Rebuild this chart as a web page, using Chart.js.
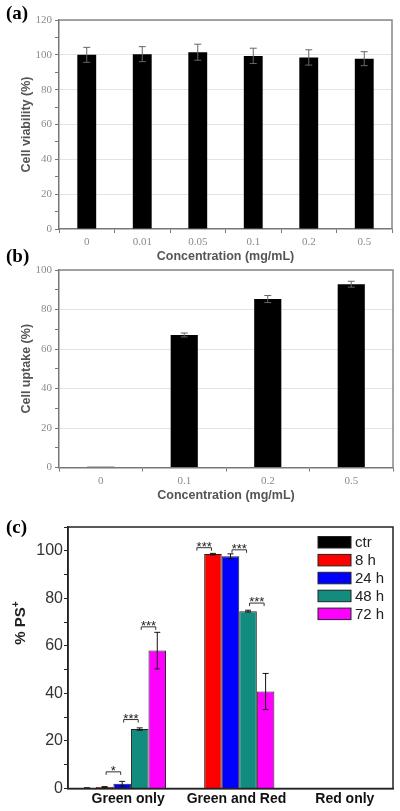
<!DOCTYPE html>
<html>
<head>
<meta charset="utf-8">
<script src="https://cdn.jsdelivr.net/npm/chart.js@4.4.4/dist/chart.umd.min.js"></script>
<style>
  body { margin: 0; background: #fff; width: 400px; height: 811px; position: relative; overflow: hidden; }
  canvas { position: absolute; left: 0; }
</style>
</head>
<body>
<canvas id="chartA" width="400" height="265" style="top:0"></canvas>
<canvas id="chartB" width="400" height="259" style="top:245px"></canvas>
<canvas id="chartC" width="400" height="305" style="top:506px"></canvas>
<script>
// (a) cell viability
const catsA = ['0', '0.01', '0.05', '0.1', '0.2', '0.5']
const viability = [100, 100.4, 101.5, 99.4, 98.5, 97.8]
const viabilityErr = [4.3, 4.3, 4.6, 4.4, 4.4, 4.0]

// (b) cell uptake
const catsB = ['0', '0.1', '0.2', '0.5']
const uptake = [0.4, 67.1, 85.3, 92.8]
const uptakeErr = [0, 1.0, 1.8, 1.5]

// (c) % PS+
const groupsC = ['Green only', 'Green and Red', 'Red only']
const seriesC = ['ctr', '8 h', '24 h', '48 h', '72 h']
const colorsC = ['#000000', '#ff0000', '#0000ff', '#138c80', '#ff00ff']
const psCtr = [0.2, 0.1, 0]
const ps8h = [0.6, 98.6, 0]
const ps24h = [2.0, 97.7, 0]
const ps48h = [25.0, 74.6, 0]
const ps72h = [58.0, 40.8, 0]
const errCtr = [0.1, 0, 0]
const err8h = [0.2, 0.3, 0]
const err24h = [1.0, 1.0, 0]
const err48h = [0.5, 0.4, 0]
const err72h = [7.7, 7.6, 0]

// significance brackets: group, from series, to series, height, label
const sigGroup = [0, 0, 0, 1, 1, 1]
const sigFrom = [1, 2, 3, 0, 2, 3]
const sigTo = [2, 3, 4, 1, 3, 4]
const sigY = [7, 29, 68, 101.3, 100.4, 78]
const sigText = ['*', '***', '***', '***', '***', '***']

const SANS = '"Liberation Sans", Arial, sans-serif'
const SERIF = '"Liberation Serif", "Times New Roman", serif'

const errorBars = {
    id: 'errorBars',
    afterDatasetsDraw(chart, args, opts) {
        const { ctx } = chart
        const y = chart.scales.y
        ctx.save()
        ctx.strokeStyle = opts.color
        ctx.lineWidth = opts.width
        chart.data.datasets.forEach((ds, i) => {
            if (!ds.errors) return
            chart.getDatasetMeta(i).data.forEach((bar, j) => {
                const e = ds.errors[j]
                if (!e) return
                const v = ds.data[j]
                const top = y.getPixelForValue(v + e)
                const bot = y.getPixelForValue(v - e)
                const c = opts.cap
                ctx.beginPath()
                ctx.moveTo(bar.x, top); ctx.lineTo(bar.x, bot)
                ctx.moveTo(bar.x - c, top); ctx.lineTo(bar.x + c, top)
                ctx.moveTo(bar.x - c, bot); ctx.lineTo(bar.x + c, bot)
                ctx.stroke()
            })
        })
        ctx.restore()
    }
}

const frame = {
    id: 'frame',
    afterDraw(chart, args, opts) {
        const { ctx, chartArea: a } = chart
        ctx.save()
        ctx.strokeStyle = opts.color
        ctx.lineWidth = opts.width
        ctx.beginPath()
        if (opts.all) {
            ctx.rect(a.left, a.top, a.right - a.left, a.bottom - a.top)
        } else {
            ctx.moveTo(a.left, a.top); ctx.lineTo(a.right, a.top); ctx.lineTo(a.right, a.bottom)
        }
        ctx.stroke()
        // panel letter
        ctx.fillStyle = '#000'
        ctx.font = 'bold 19px ' + SERIF
        ctx.textBaseline = 'alphabetic'
        ctx.textAlign = 'left'
        ctx.fillText(opts.letter, opts.lx, opts.ly)
        ctx.restore()
    }
}

function panelOptions(ymax, yTitle, layoutPad, xHeight) {
    return {
        responsive: false,
        animation: false,
        layout: { padding: layoutPad },
        plugins: { legend: { display: false }, tooltip: { enabled: false } },
        scales: {
            x: {
                afterFit: s => { s.height = xHeight },
                ticks: { color: '#8a8a8a', font: { family: SERIF, size: 11 }, padding: 3, maxRotation: 0 },
                grid: { drawOnChartArea: false, tickLength: 4, tickColor: '#777', offset: true },
                border: { color: '#777', width: 1.5 },
                title: { display: true, text: 'Concentration (mg/mL)', color: '#555', padding: 0,
                         font: { family: SANS, size: 12.5, weight: 'bold' } }
            },
            y: {
                min: 0, max: ymax,
                afterFit: s => { s.width = 59 - layoutPad.left },
                ticks: { stepSize: 10, autoSkip: false, padding: 3, color: '#8a8a8a',
                         font: { family: SERIF, size: 11 },
                         callback: v => v % 20 === 0 ? v : '' },
                grid: {
                    color: c => (c.tick && c.tick.value % 20 === 0 && c.tick.value > 0) ? '#e3e3e3' : 'rgba(0,0,0,0)',
                    tickColor: '#777', tickLength: 4
                },
                border: { color: '#777', width: 1.5 },
                title: { display: true, text: yTitle, color: '#555', padding: 0,
                         font: { family: SANS, size: 12.5, weight: 'bold' } }
            }
        }
    }
}

// panel (a)
const optA = panelOptions(120, 'Cell viability (%)', { left: 19.5, right: 8, top: 20, bottom: 0.5 }, 35.5)
optA.plugins.errorBars = { color: '#666', width: 1, cap: 3.5 }
optA.plugins.frame = { color: '#888', width: 1.5, letter: '(a)', lx: 6, ly: 19 }
new Chart(document.getElementById('chartA'), {
    type: 'bar',
    data: {
        labels: catsA,
        datasets: [{ data: viability, errors: viabilityErr, backgroundColor: '#000',
                     barPercentage: 0.34, categoryPercentage: 1 }]
    },
    options: optA,
    plugins: [errorBars, frame]
})

// panel (b)
const optB = panelOptions(100, 'Cell uptake (%)', { left: 19.5, right: 7, top: 25, bottom: 0.5 }, 36)
optB.plugins.errorBars = { color: '#666', width: 1, cap: 3.5 }
optB.plugins.frame = { color: '#888', width: 1.5, letter: '(b)', lx: 6, ly: 17 }
new Chart(document.getElementById('chartB'), {
    type: 'bar',
    data: {
        labels: catsB,
        datasets: [{ data: uptake, errors: uptakeErr, backgroundColor: '#000',
                     barPercentage: 0.325, categoryPercentage: 1 }]
    },
    options: optB,
    plugins: [errorBars, frame]
})

// panel (c) extras: legend, significance marks, y title
const extrasC = {
    id: 'extrasC',
    afterDraw(chart) {
        const { ctx } = chart
        const y = chart.scales.y
        ctx.save()
        // significance brackets
        ctx.strokeStyle = '#333'
        ctx.fillStyle = '#222'
        ctx.lineWidth = 1
        ctx.font = '13px ' + SANS
        ctx.textAlign = 'center'
        ctx.textBaseline = 'alphabetic'
        sigText.forEach((t, k) => {
            const x1 = chart.getDatasetMeta(sigFrom[k]).data[sigGroup[k]].x + 1.5
            const x2 = chart.getDatasetMeta(sigTo[k]).data[sigGroup[k]].x - 1.5
            const py = y.getPixelForValue(sigY[k])
            ctx.beginPath()
            ctx.moveTo(x1, py + 3); ctx.lineTo(x1, py); ctx.lineTo(x2, py); ctx.lineTo(x2, py + 3)
            ctx.stroke()
            ctx.fillText(t, (x1 + x2) / 2, py + 3)
        })
        // legend
        ctx.textAlign = 'left'
        ctx.textBaseline = 'middle'
        ctx.font = '15px ' + SANS
        seriesC.forEach((name, i) => {
            const top = 30.5 + i * 17.9
            ctx.fillStyle = colorsC[i]
            ctx.fillRect(318, top, 33, 11.5)
            ctx.strokeStyle = '#222'
            ctx.strokeRect(318, top, 33, 11.5)
            ctx.fillStyle = '#222'
            ctx.fillText(name, 355, top + 6.5)
        })
        // y title
        ctx.translate(21, 117)
        ctx.rotate(-Math.PI / 2)
        ctx.fillStyle = '#222'
        ctx.font = 'bold 15px ' + SANS
        ctx.textBaseline = 'middle'
        const w = ctx.measureText('% PS').width
        ctx.fillText('% PS', -(w + 6) / 2, 0)
        ctx.font = 'bold 10px ' + SANS
        ctx.fillText('+', -(w + 6) / 2 + w, -5)
        ctx.restore()
    }
}

const seriesValues = [psCtr, ps8h, ps24h, ps48h, ps72h]
const seriesErrors = [errCtr, err8h, err24h, err48h, err72h]

new Chart(document.getElementById('chartC'), {
    type: 'bar',
    data: {
        labels: groupsC,
        datasets: seriesC.map((name, i) => ({
            label: name,
            data: seriesValues[i],
            errors: seriesErrors[i],
            backgroundColor: colorsC[i],
            borderColor: '#222',
            borderWidth: 1,
            barPercentage: 1,
            categoryPercentage: 0.81
        }))
    },
    options: {
        responsive: false,
        animation: false,
        layout: { padding: { left: 0, right: 7, top: 21, bottom: 0 } },
        plugins: {
            legend: { display: false },
            tooltip: { enabled: false },
            errorBars: { color: '#111', width: 1, cap: 3 },
            frame: { color: '#222', width: 1.5, all: true, letter: '(c)', lx: 6, ly: 27 }
        },
        scales: {
            x: {
                afterFit: s => { s.height = 22.5 },
                ticks: { color: '#111', font: { family: SANS, size: 14, weight: 'bold' }, padding: 2,
                         labelOffset: 6, maxRotation: 0 },
                grid: { display: false, drawTicks: false, tickLength: 0 },
                border: { color: '#222', width: 1.5 }
            },
            y: {
                min: 0, max: 110,
                afterFit: s => { s.width = 68 },
                ticks: { stepSize: 10, autoSkip: false, padding: 1, color: '#333',
                         font: { family: SANS, size: 16 },
                         callback: v => v % 20 === 0 ? v : '' },
                grid: { drawOnChartArea: false, tickLength: 4, tickColor: '#222' },
                border: { color: '#222', width: 1.5 }
            }
        }
    },
    plugins: [errorBars, frame, extrasC]
})
</script>
</body>
</html>
